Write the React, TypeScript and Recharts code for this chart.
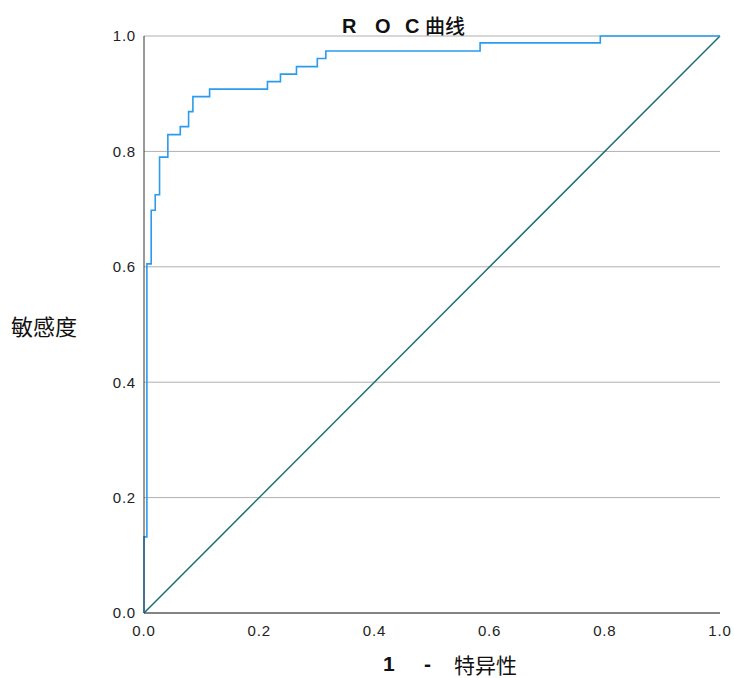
import React from "react";
import { LineChart, Line, XAxis, YAxis, CartesianGrid, ReferenceLine } from "recharts";

// ROC curve corner points (1 - specificity, sensitivity)
const fpr = [0, 0, 0.005, 0.005, 0.0125, 0.0125, 0.0195, 0.0195, 0.027, 0.027, 0.0414, 0.0414, 0.063, 0.063, 0.0774, 0.0774, 0.0849, 0.0849, 0.1139, 0.1139, 0.2143, 0.2143, 0.2369, 0.2369, 0.2647, 0.2647, 0.3009, 0.3009, 0.3157, 0.3157, 0.5835, 0.5835, 0.7922, 0.7922, 1.0];
const tpr = [0, 0.132, 0.132, 0.605, 0.605, 0.698, 0.698, 0.725, 0.725, 0.79, 0.79, 0.829, 0.829, 0.843, 0.843, 0.869, 0.869, 0.895, 0.895, 0.908, 0.908, 0.921, 0.921, 0.934, 0.934, 0.947, 0.947, 0.961, 0.961, 0.974, 0.974, 0.988, 0.988, 1.0, 1.0];
const diagX = [0, 1];
const diagY = [0, 1];
const ticks = [0, 0.2, 0.4, 0.6, 0.8, 1.0];

const rocData = fpr.map((x, i) => ({ x, y: tpr[i] }));
const diagData = diagX.map((x, i) => ({ x, y: diagY[i] }));

const sans = "'Liberation Sans', Arial, sans-serif";
const cjk = "'Noto Sans CJK SC', 'Liberation Sans', sans-serif";

export default function App() {
  return (
    <div style={{ position: "absolute", left: 0, top: 0, width: 734, height: 678, background: "#fff" }}>
      <LineChart
        width={734}
        height={678}
        margin={{ top: 36, right: 14, bottom: 35, left: 84 }}
      >
        <CartesianGrid vertical={false} stroke="#b0b0b0" strokeWidth={1} />
        <XAxis
          dataKey="x"
          type="number"
          domain={[0, 1]}
          ticks={ticks}
          tickFormatter={(v: number) => v.toFixed(1)}
          tickLine={false}
          tickMargin={6}
          axisLine={{ stroke: "#333", strokeWidth: 1 }}
          tick={{ fill: "#222", fontSize: 15, fontFamily: sans, letterSpacing: 0.8 }}
          allowDuplicatedCategory={false}
        />
        <YAxis
          dataKey="y"
          type="number"
          domain={[0, 1]}
          ticks={ticks}
          width={60}
          tickFormatter={(v: number) => v.toFixed(1)}
          tickLine={false}
          tickMargin={2}
          axisLine={{ stroke: "#333", strokeWidth: 1 }}
          tick={{ fill: "#222", fontSize: 15, fontFamily: sans, letterSpacing: 0.8 }}
        />
        <ReferenceLine y={1} stroke="#d8d8d8" strokeWidth={1} />
        <Line
          data={diagData}
          dataKey="y"
          type="linear"
          stroke="#1b6f73"
          strokeWidth={1.5}
          dot={false}
          isAnimationActive={false}
        />
        <Line
          data={rocData}
          dataKey="y"
          type="linear"
          stroke="#2a9bef"
          strokeWidth={1.6}
          dot={false}
          isAnimationActive={false}
        />
      </LineChart>
      <div style={{ position: "absolute", left: 0, top: 12, width: 734, height: 28, fontSize: 20, lineHeight: "28px", color: "#111", whiteSpace: "nowrap" }}>
        <span style={{ position: "absolute", left: 342, fontFamily: sans, fontWeight: "bold" }}>R</span>
        <span style={{ position: "absolute", left: 375, fontFamily: sans, fontWeight: "bold" }}>O</span>
        <span style={{ position: "absolute", left: 405, fontFamily: sans, fontWeight: "bold" }}>C</span>
        <span style={{ position: "absolute", left: 425, fontFamily: cjk, fontWeight: 500 }}>曲线</span>
      </div>
      <div style={{ position: "absolute", left: 0, top: 653, width: 734, height: 22, fontSize: 21, lineHeight: "22px", color: "#111", whiteSpace: "nowrap" }}>
        <span style={{ position: "absolute", left: 383, fontFamily: sans, fontWeight: "bold" }}>1</span>
        <span style={{ position: "absolute", left: 424, fontFamily: sans, fontWeight: "bold" }}>-</span>
        <span style={{ position: "absolute", left: 454, fontFamily: cjk }}>特异性</span>
      </div>
      <div style={{ position: "absolute", left: 11, top: 310, fontSize: 22, lineHeight: "30px", color: "#111", fontFamily: cjk, whiteSpace: "nowrap" }}>
        敏感度
      </div>
    </div>
  );
}
